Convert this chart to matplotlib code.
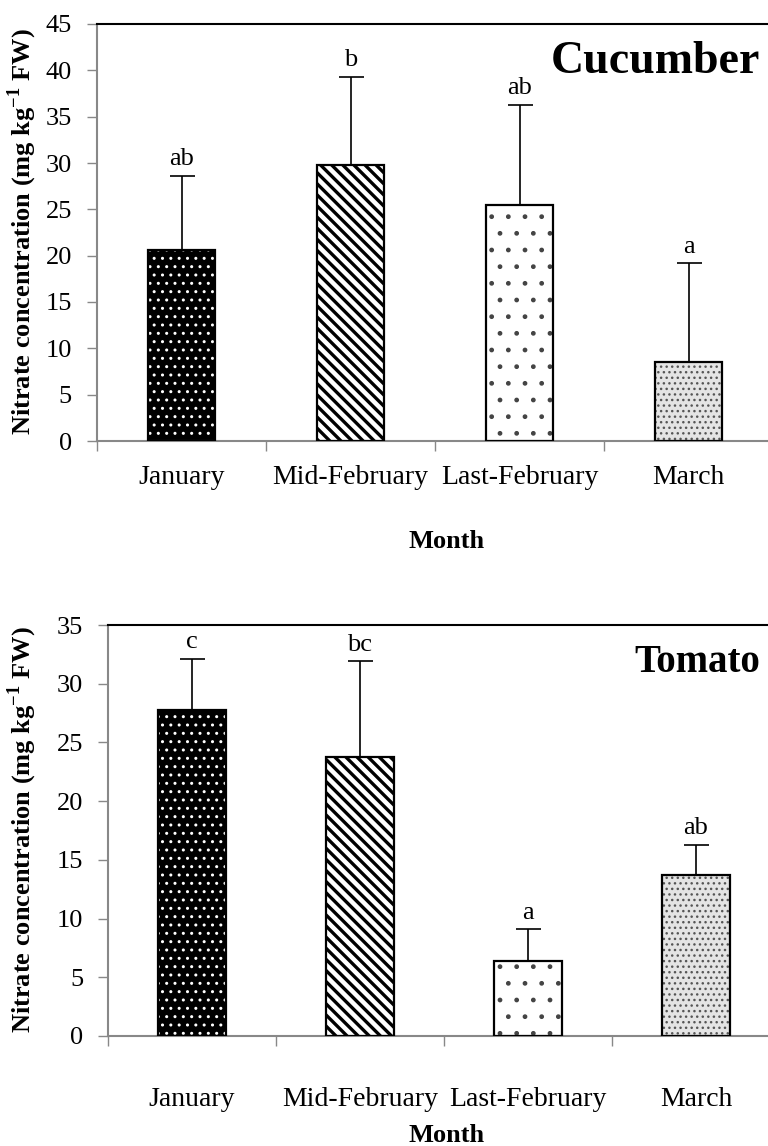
import matplotlib
matplotlib.use("Agg")
import matplotlib.pyplot as plt
import numpy as np

plt.rcParams['font.family'] = ['Liberation Serif', 'DejaVu Serif']
plt.rcParams['mathtext.fontset'] = 'custom'
plt.rcParams['mathtext.rm'] = 'Liberation Serif'
plt.rcParams['mathtext.bf'] = 'Liberation Serif:bold'

months = ["January", "Mid-February", "Last-February", "March"]

cuc_values = [20.6, 29.8, 25.5, 8.5]
cuc_err = [8.0, 9.5, 10.8, 10.7]
cuc_letters = ["ab", "b", "ab", "a"]

tom_values = [27.8, 23.8, 6.4, 13.7]
tom_err = [4.3, 8.1, 2.7, 2.6]
tom_letters = ["c", "bc", "a", "ab"]

# (facecolor, hatch, hatchcolor, hatch linewidth)
styles = [
    ("black", "..", "white", 1.0),
    ("white", "\\\\\\", "black", 2.4),
    ("white", ".", "#444444", 1.0),
    ("#e4e4e4", "...", "#555555", 1.0),
]

W, H = 768, 1146
fig = plt.figure(figsize=(W / 100, H / 100), dpi=100)
FS = 19


def panel(rect, values, errs, letters, ymax, title, title_fs, title_y,
          ylab_y, tickpad):
    ax = fig.add_axes(rect)
    x = np.arange(len(months))
    for i, (v, e) in enumerate(zip(values, errs)):
        fc, hatch, hc, hlw = styles[i]
        plt.rcParams['hatch.linewidth'] = hlw
        ax.bar(x[i], v, width=0.4, color=fc, hatch=hatch, edgecolor=hc,
               linewidth=0, zorder=2)
        ax.bar(x[i], v, width=0.4, fill=False, edgecolor="black",
               linewidth=1.6, zorder=3)
        ax.errorbar(x[i], v, yerr=[[0], [e]], fmt="none", ecolor="black",
                    elinewidth=1.2, capsize=9, capthick=1.2, zorder=1)
        ax.annotate(letters[i], (x[i], v + e), xytext=(0, 4),
                    textcoords="offset points", ha="center", va="bottom",
                    fontsize=FS)
    ax.set_xlim(-0.5, len(months) - 0.5)
    ax.set_ylim(0, ymax)
    ax.set_yticks(np.arange(0, ymax + 1, 5))
    ax.set_xticks(np.arange(-0.5, len(months), 1.0))
    ax.set_xticklabels([])
    ax.set_xticks(x, minor=True)
    ax.set_xticklabels(months, minor=True, fontsize=20)
    ax.tick_params(axis="x", which="minor", length=0, pad=tickpad)
    ax.tick_params(axis="x", which="major", length=7, color="#888888", width=1)
    ax.tick_params(axis="y", length=7, color="#888888", width=1,
                   labelsize=FS, pad=11)
    for s in ("left", "bottom"):
        ax.spines[s].set_color("#888888")
        ax.spines[s].set_linewidth(1.5)
    ax.spines["top"].set_color("black")
    ax.spines["top"].set_linewidth(1.5)
    ax.spines["right"].set_visible(False)
    fig.text(0.99, title_y, title, ha="right", va="center", fontsize=title_fs,
             fontweight="bold")
    fig.text(22 / W, ylab_y,
             r"Nitrate concentration (mg kg$^{\mathbf{-1}}$ FW)",
             rotation=90, ha="center", va="center", fontsize=FS,
             fontweight="bold")
    return ax


ax1 = panel([97 / W, 1 - 441 / H, 676 / W, 417 / H], cuc_values, cuc_err,
            cuc_letters, 45, "Cucumber", 33, 1 - 62 / H, 1 - 232 / H, 17)
fig.text(447 / W, 1 - 542 / H, "Month", ha="center", va="center",
         fontsize=FS, fontweight="bold")

ax2 = panel([108 / W, 1 - 1036 / H, 672 / W, 411 / H], tom_values, tom_err,
            tom_letters, 35, "Tomato", 28, 1 - 662 / H, 1 - 830 / H, 37)
fig.text(447 / W, 1 - 1136 / H, "Month", ha="center", va="center",
         fontsize=FS, fontweight="bold")

fig.savefig("out.png", dpi=100)
